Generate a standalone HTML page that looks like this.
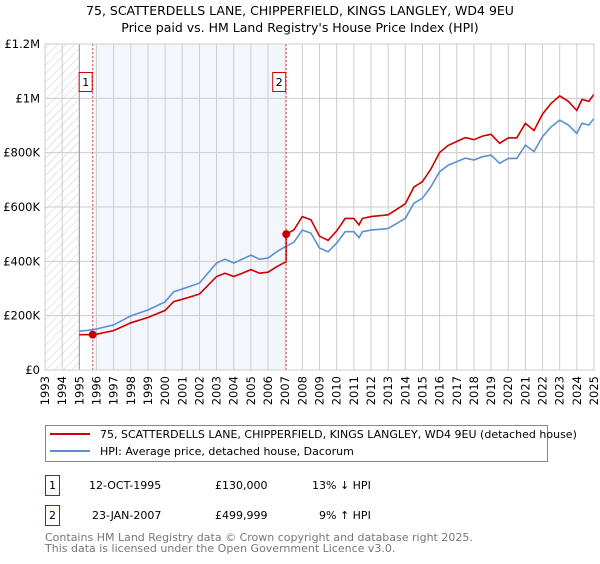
<!DOCTYPE html>
<html><head><meta charset="utf-8"><style>
body{margin:0;background:#fff;width:600px;height:560px;overflow:hidden;font-family:"DejaVu Sans","Liberation Sans",sans-serif}
svg text{font-family:"DejaVu Sans","Liberation Sans",sans-serif}
</style></head><body>
<svg id="chart" width="600" height="560" viewBox="0 0 600 560" xmlns="http://www.w3.org/2000/svg">
<defs><pattern id="hatch" width="6" height="6" patternUnits="userSpaceOnUse" patternTransform="rotate(45)"><line x1="0" y1="0" x2="0" y2="6" stroke="#ccc" stroke-width="1"/></pattern></defs>
<text x="300" y="15" text-anchor="middle" font-size="12.5">75, SCATTERDELLS LANE, CHIPPERFIELD, KINGS LANGLEY, WD4 9EU</text>
<text x="300" y="32" text-anchor="middle" font-size="12.5">Price paid vs. HM Land Registry's House Price Index (HPI)</text>
<g id="plot"></g>
<g id="legend">
<rect x="45.5" y="425.5" width="502" height="36" fill="#fff" stroke="#888"/>
<line x1="50" y1="434" x2="90" y2="434" stroke="#cc0000" stroke-width="2"/>
<text x="100" y="438" font-size="11">75, SCATTERDELLS LANE, CHIPPERFIELD, KINGS LANGLEY, WD4 9EU (detached house)</text>
<line x1="50" y1="451" x2="90" y2="451" stroke="#5b8fd0" stroke-width="2"/>
<text x="100" y="455" font-size="11">HPI: Average price, detached house, Dacorum</text>
</g>
<g font-size="11">
<rect x="45.5" y="475.5" width="14" height="20" fill="#fff" stroke="#cc0000"/>
<text x="52.5" y="489" text-anchor="middle">1</text>
<text x="89" y="489">12-OCT-1995</text>
<text x="215" y="489">£130,000</text>
<text x="312" y="489">13% ↓ HPI</text>
<rect x="45.5" y="505.5" width="14" height="20" fill="#fff" stroke="#cc0000"/>
<text x="52.5" y="519" text-anchor="middle">2</text>
<text x="92" y="519">23-JAN-2007</text>
<text x="215" y="519">£499,999</text>
<text x="319" y="519">9% ↑ HPI</text>
</g>
<text x="45" y="541" font-size="11" fill="#777">Contains HM Land Registry data © Crown copyright and database right 2025.</text>
<text x="45" y="552" font-size="11" fill="#777">This data is licensed under the Open Government Licence v3.0.</text>
</svg>
<script>
const hpiYears=[1995,1995.5,1996,1997,1998,1999,2000,2000.5,2001,2002,2002.5,2003,2003.5,2004,2004.5,2005,2005.5,2006,2006.5,2007,2007.5,2008,2008.5,2009,2009.5,2010,2010.5,2011,2011.3,2011.5,2012,2013,2014,2014.5,2015,2015.5,2016,2016.5,2017,2017.5,2018,2018.5,2019,2019.5,2020,2020.5,2021,2021.5,2022,2022.5,2023,2023.5,2024,2024.3,2024.7,2025];
const hpiValues=[143,146,151,166,199,221,251,288,298,320,357,394,408,394,408,423,408,412,435,454,470,515,504,449,435,467,509,509,487,509,515,521,558,614,632,675,730,754,767,780,773,785,791,761,779,779,828,804,859,895,920,902,871,908,902,926];
const saleYears=[1995.78,2007.06];
const salePrices=[130,499.999];
const saleLabels=["1","2"];
const yTicks=[0,200,400,600,800,1000,1200];
const yTickLabels=["£0","£200K","£400K","£600K","£800K","£1M","£1.2M"];
const xTicks=[1993,1994,1995,1996,1997,1998,1999,2000,2001,2002,2003,2004,2005,2006,2007,2008,2009,2010,2011,2012,2013,2014,2015,2016,2017,2018,2019,2020,2021,2022,2023,2024,2025];

const X0=45,X1=594,Y0=370,Y1=44;
const xs=y=>X0+(y-1993)/(2025-1993)*(X1-X0);
const ys=v=>Y0-v/1200*(Y0-Y1);
const NS="http://www.w3.org/2000/svg";
const g=document.getElementById('plot');
function mk(t,a){const e=document.createElementNS(NS,t);for(const k in a)e.setAttribute(k,a[k]);g.appendChild(e);return e;}
function hpiAt(t){for(let i=0;i<hpiYears.length-1;i++){if(t>=hpiYears[i]&&t<=hpiYears[i+1]){const f=(t-hpiYears[i])/(hpiYears[i+1]-hpiYears[i]);return hpiValues[i]+f*(hpiValues[i+1]-hpiValues[i]);}}return hpiValues[hpiValues.length-1];}

let e=mk('rect',{x:xs(1993),y:Y1,width:xs(1995)-xs(1993),height:Y0-Y1,fill:'url(#hatch)'});


e=mk('rect',{x:xs(saleYears[0]),y:Y1,width:xs(saleYears[1])-xs(saleYears[0]),height:Y0-Y1,fill:'#eef3fc',opacity:0.7});


yTicks.forEach((v,i)=>{
  let l=mk('line',{x1:X0,x2:X1,y1:ys(v),y2:ys(v),stroke:'#ccc'});
  
  
  let t=mk('text',{x:40,y:ys(v)+4,'text-anchor':'end','font-size':'11.5'});t.textContent=yTickLabels[i];
  
  
});
xTicks.forEach(yr=>{
  let l=mk('line',{x1:xs(yr),x2:xs(yr),y1:Y1,y2:Y0,stroke:'#ccc'});
  
  
  let t=mk('text',{x:0,y:0,'text-anchor':'end','font-size':'11.5',transform:`translate(${xs(yr)+4},376) rotate(-90)`});t.textContent=yr;
  
  
});
e=mk('line',{x1:xs(1995),x2:xs(1995),y1:Y1,y2:Y0,stroke:'#999'});


// HPI line
let d=hpiYears.map((y,i)=>(i?'L':'M')+xs(y).toFixed(1)+','+ys(hpiValues[i]).toFixed(1)).join('');
e=mk('path',{d:d,fill:'none',stroke:'#5b8fd0','stroke-width':1.6});


// price paid line (indexed from sales)
let pts=[[1995,salePrices[0]],[saleYears[0],salePrices[0]]];
const r1=salePrices[0]/hpiAt(saleYears[0]),r2=salePrices[1]/hpiAt(saleYears[1]);
hpiYears.forEach((y,i)=>{if(y>saleYears[0]&&y<saleYears[1])pts.push([y,hpiValues[i]*r1]);});
pts.push([saleYears[1],hpiAt(saleYears[1])*r1]);pts.push([saleYears[1],salePrices[1]]);
hpiYears.forEach((y,i)=>{if(y>saleYears[1])pts.push([y,hpiValues[i]*r2]);});
d=pts.map((p,i)=>(i?'L':'M')+xs(p[0]).toFixed(1)+','+ys(p[1]).toFixed(1)).join('');
e=mk('path',{d:d,fill:'none',stroke:'#cc0000','stroke-width':1.6});


saleYears.forEach((yr,i)=>{
  let l=mk('line',{x1:xs(yr),x2:xs(yr),y1:Y1,y2:Y0,stroke:'#e05050','stroke-dasharray':'2,2'});
  
  
  let c=mk('circle',{cx:xs(yr),cy:ys(salePrices[i]),r:4,fill:'#cc0000'});
  
  
  let b=mk('rect',{x:xs(yr)-13.5,y:72.5,width:13,height:19,fill:'#fff',stroke:'#cc0000'});
  
  
  let t=mk('text',{x:xs(yr)-7,y:86,'text-anchor':'middle','font-size':'11'});t.textContent=saleLabels[i];
  
  
});
e=mk('rect',{x:X0,y:Y1,width:X1-X0,height:Y0-Y1,fill:'none',stroke:'#ccc'});


</script>
</body></html>
